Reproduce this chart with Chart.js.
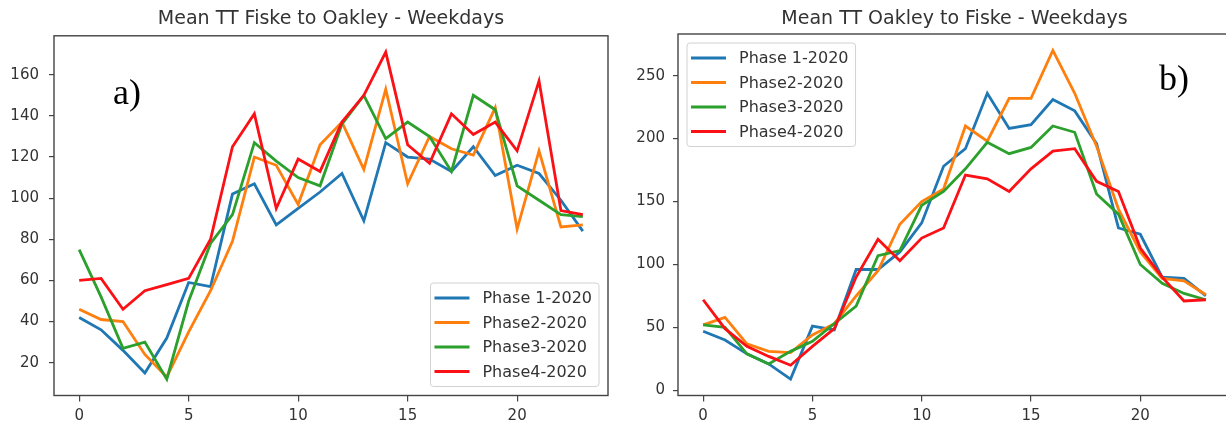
<!DOCTYPE html>
<html>
<head>
<meta charset="utf-8">
<script src="https://cdn.jsdelivr.net/npm/chart.js@4.4.0/dist/chart.umd.min.js"></script>
<style>
  html, body { margin: 0; padding: 0; background: #fff; overflow: hidden; }
  #wrap { position: relative; width: 1226px; height: 425px; overflow: hidden; }
  #leftPanel { position: absolute; left: 0; top: 0; width: 613px; height: 425px; }
  #rightPanel { position: absolute; left: 613px; top: 0; width: 620px; height: 425px; }
  canvas { display: block; }
</style>
</head>
<body>
<div id="wrap">
  <div id="leftPanel"><canvas id="fiskeOakley" width="613" height="425"></canvas></div>
  <div id="rightPanel"><canvas id="oakleyFiske" width="620" height="425"></canvas></div>
</div>
<script>
// Hour of day (x axis)
const hours = [0,1,2,3,4,5,6,7,8,9,10,11,12,13,14,15,16,17,18,19,20,21,22,23];

const seriesNames  = ['Phase 1-2020', 'Phase2-2020', 'Phase3-2020', 'Phase4-2020'];
const seriesColors = ['#1f77b4', '#ff7f0e', '#2ca02c', '#fb1015'];

// Mean travel time, Fiske -> Oakley, weekdays
const fiskeOakleyP1 = [42,36,26,15,32,59,57,102,107,87,95,103,112,89,127,120,119,113,125,111,116,112,99,84];
const fiskeOakleyP2 = [46,41,40,24,13,35,55,79,120,116,97,126,137,114,153,107,130,124,121,144,85,123,86,87];
const fiskeOakleyP3 = [75,52,27,30,12,50,78,92,127,118,110,106,136,150,129,137,130,113,150,143,106,99,92,91];
const fiskeOakleyP4 = [60,61,46,55,58,61,80,125,141,95,119,113,137,150,171,126,117,141,131,137,123,157,94,92];

// Mean travel time, Oakley -> Fiske, weekdays
const oakleyFiskeP1 = [47,40,29,21,9,51,48,96,96,110,133,178,192,236,208,211,231,222,196,129,124,90,89,75];
const oakleyFiskeP2 = [52,58,37,31,30,44,53,75,95,132,150,160,210,198,232,232,270,236,194,144,110,89,87,76];
const oakleyFiskeP3 = [52,50,29,21,31,39,53,67,107,111,147,158,176,197,188,193,210,205,156,140,100,85,77,72];
const oakleyFiskeP4 = [72,49,35,27,20,35,49,90,120,103,121,129,171,168,158,176,190,192,166,158,113,90,71,72];

// Tick labels
const hourTicks        = [0, 5, 10, 15, 20];
const fiskeOakleyTicks = [20, 40, 60, 80, 100, 120, 140, 160];
const oakleyFiskeTicks = [0, 50, 100, 150, 200, 250];

const FONT = '"DejaVu Sans", Verdana, sans-serif';

// Frame, in-axes legend and panel tag
const panelDecor = {
  id: 'panelDecor',
  afterDatasetsDraw(chart, args, opts) {
    const ctx = chart.ctx;
    const a = chart.chartArea;
    ctx.save();

    // axes frame (all four spines)
    ctx.strokeStyle = '#444';
    ctx.lineWidth = 1.4;
    ctx.strokeRect(a.left, a.top, a.right - a.left, a.bottom - a.top);

    // legend
    const sets = chart.data.datasets;
    ctx.font = '16px ' + FONT;
    let maxW = 0;
    sets.forEach(d => { maxW = Math.max(maxW, ctx.measureText(d.label).width); });
    const padL = 4, handle = 35, gap = 13, padR = 7, rowH = 24.5, padV = 15;
    const boxW = padL + handle + gap + maxW + padR;
    const boxH = padV * 2 + rowH * (sets.length - 1);
    let bx, by;
    if (opts.legendCorner === 'lowerRight') {
      bx = a.right - opts.inset - boxW;
      by = a.bottom - opts.inset - boxH;
    } else {
      bx = a.left + opts.inset;
      by = a.top + opts.inset;
    }
    ctx.beginPath();
    if (ctx.roundRect) ctx.roundRect(bx, by, boxW, boxH, 3); else ctx.rect(bx, by, boxW, boxH);
    ctx.fillStyle = 'rgba(255,255,255,0.85)';
    ctx.fill();
    ctx.strokeStyle = '#d2d2d2';
    ctx.lineWidth = 1;
    ctx.stroke();

    sets.forEach((d, i) => {
      const cy = by + padV + i * rowH;
      ctx.beginPath();
      ctx.moveTo(bx + padL, cy);
      ctx.lineTo(bx + padL + handle, cy);
      ctx.strokeStyle = d.borderColor;
      ctx.lineWidth = 2.8;
      ctx.stroke();
      ctx.fillStyle = '#333';
      ctx.textAlign = 'left';
      ctx.textBaseline = 'middle';
      ctx.fillText(d.label, bx + padL + handle + gap, cy + 1);
    });

    // panel tag
    ctx.font = '36px "Liberation Serif", "Times New Roman", serif';
    ctx.fillStyle = '#000';
    ctx.textAlign = 'left';
    ctx.textBaseline = 'alphabetic';
    ctx.fillText(opts.tag, opts.tagX, opts.tagY);

    ctx.restore();
  }
};

function makeChart(canvasId, title, seriesValues, yTicks, cfg) {
  const all = seriesValues.flat();
  const lo = Math.min(...all), hi = Math.max(...all);
  const pad = (hi - lo) * 0.05;

  const datasets = seriesValues.map((vals, i) => ({
    label: seriesNames[i],
    data: hours.map((h, j) => ({ x: h, y: vals[j] })),
    borderColor: seriesColors[i],
    backgroundColor: seriesColors[i],
    borderWidth: 2.8,
    pointRadius: 0,
    tension: 0,
    fill: false,
    order: seriesValues.length - i
  }));

  return new Chart(document.getElementById(canvasId), {
    type: 'line',
    data: { datasets },
    options: {
      responsive: false,
      animation: false,
      layout: { padding: { left: 0, right: cfg.rightPad, top: 0, bottom: 0 } },
      scales: {
        x: {
          type: 'linear',
          min: hours[0] - (hours[hours.length - 1] - hours[0]) * 0.05,
          max: hours[hours.length - 1] + (hours[hours.length - 1] - hours[0]) * 0.05,
          afterBuildTicks: s => { s.ticks = hourTicks.map(v => ({ value: v })); },
          afterFit: s => { s.height = 29.5; },
          border: { display: false },
          grid: { drawOnChartArea: false, drawTicks: true, tickLength: 6, color: '#444', lineWidth: 1.2 },
          ticks: { color: '#333', padding: 6, maxRotation: 0, font: { family: FONT, size: 15 } }
        },
        y: {
          type: 'linear',
          min: lo - pad,
          max: hi + pad,
          afterBuildTicks: s => { s.ticks = yTicks.map(v => ({ value: v })); },
          afterFit: s => { s.width = cfg.yWidth; },
          border: { display: false },
          grid: { drawOnChartArea: false, drawTicks: true, tickLength: 5, color: '#444', lineWidth: 1.2 },
          ticks: { color: '#333', padding: cfg.yPad, font: { family: FONT, size: 15 } }
        }
      },
      plugins: {
        legend: { display: false },
        tooltip: { enabled: false },
        title: {
          display: true,
          text: title,
          fullSize: false,
          color: '#333',
          font: { family: FONT, size: 19, weight: 'normal' },
          padding: cfg.titlePad
        },
        panelDecor: cfg.decor
      }
    },
    plugins: [panelDecor]
  });
}

makeChart('fiskeOakley', 'Mean TT Fiske to Oakley - Weekdays',
  [fiskeOakleyP1, fiskeOakleyP2, fiskeOakleyP3, fiskeOakleyP4], fiskeOakleyTicks,
  { rightPad: 5, yWidth: 54, yPad: 10, titlePad: { top: 8, bottom: 5 },
    decor: { legendCorner: 'lowerRight', inset: 9, tag: 'a)', tagX: 113, tagY: 104 } });

makeChart('oakleyFiske', 'Mean TT Oakley to Fiske - Weekdays',
  [oakleyFiskeP1, oakleyFiskeP2, oakleyFiskeP3, oakleyFiskeP4], oakleyFiskeTicks,
  { rightPad: 2, yWidth: 65, yPad: 8, titlePad: { top: 8, bottom: 3.2 },
    decor: { legendCorner: 'upperLeft', inset: 9, tag: 'b)', tagX: 546, tagY: 90 } });
</script>
</body>
</html>
